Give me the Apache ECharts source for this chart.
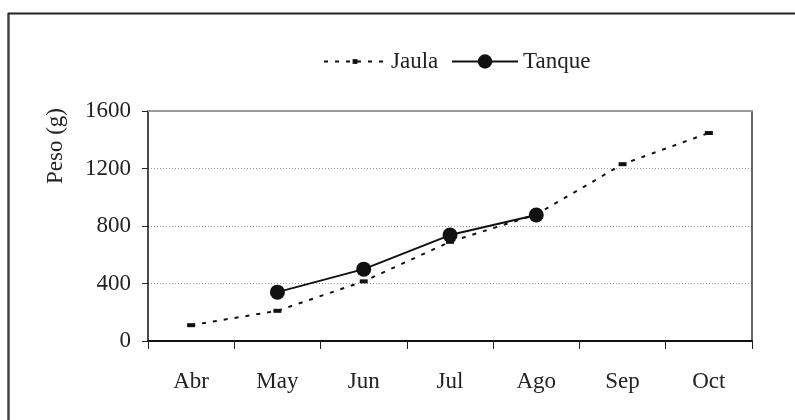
<!DOCTYPE html>
<html>
<head>
<meta charset="utf-8">
<script src="https://cdn.jsdelivr.net/npm/echarts@6/dist/echarts.min.js"></script>
<style>
html,body{margin:0;padding:0;background:#fff;}
#c{width:795px;height:420px;}
</style>
</head>
<body>
<div id="c"></div>
<script>
var categories = ['Abr', 'May', 'Jun', 'Jul', 'Ago', 'Sep', 'Oct'];
var jaula = [110, 210, 415, 690, 880, 1230, 1447];
var tanque = [null, 340, 500, 737, 877, null, null];
var yTicks = [0, 400, 800, 1200, 1600];
var yName = 'Peso (g)';

var FONT = 'Liberation Serif';
var TXT = '#222';
var chart = echarts.init(document.getElementById('c'), null, {renderer: 'canvas'});
chart.setOption({
  animation: false,
  backgroundColor: '#fff',
  textStyle: {fontFamily: FONT},
  grid: {left: 148, right: 43, top: 111, bottom: 79, containLabel: false},
  legend: [
    {
      data: ['Jaula'], left: 318, top: 45, itemWidth: 62, itemHeight: 6, itemGap: 10,
      textStyle: {fontFamily: FONT, fontSize: 23, color: TXT, padding: [0, 0, 0, 0]}
    },
    {
      data: ['Tanque'], left: 446, top: 45, itemWidth: 66, itemHeight: 18, itemGap: 10,
      textStyle: {fontFamily: FONT, fontSize: 23, color: TXT, padding: [0, 0, 0, 0]}
    }
  ],
  xAxis: [
    {
      type: 'category', data: categories, boundaryGap: true,
      axisLine: {lineStyle: {color: '#111', width: 2}},
      axisTick: {show: true, length: 8, lineStyle: {color: '#222', width: 1}},
      axisLabel: {fontFamily: FONT, fontSize: 23, color: TXT, margin: 29},
      splitLine: {show: false}
    },
    {
      type: 'category', data: categories, position: 'top',
      axisLine: {onZero: false, lineStyle: {color: '#999', width: 2}},
      axisTick: {show: false}, axisLabel: {show: false}
    }
  ],
  yAxis: [
    {
      type: 'value', min: 0, max: 1600, interval: 400,
      axisLine: {show: true, onZero: false, lineStyle: {color: '#111', width: 1.5}},
      axisTick: {show: true, length: 6, lineStyle: {color: '#222'}},
      axisLabel: {fontFamily: FONT, fontSize: 23, color: TXT, margin: 17,
        formatter: function (v) { return yTicks.indexOf(v) >= 0 ? String(v) : ''; }},
      splitLine: {show: true, lineStyle: {color: '#999', type: [1, 2], width: 1}}
    },
    {
      type: 'value', min: 0, max: 1600, interval: 400, position: 'right',
      axisLine: {show: true, onZero: false, lineStyle: {color: '#333', width: 1.5}},
      axisTick: {show: false}, axisLabel: {show: false}, splitLine: {show: false}
    }
  ],
  graphic: [
    {
      type: 'text', x: 56, y: 146, rotation: Math.PI / 2,
      style: {text: yName, fontFamily: FONT, fontSize: 23, fill: TXT, textAlign: 'center', textVerticalAlign: 'middle'}
    },
    {type: 'line', shape: {x1: 8.5, y1: 13, x2: 8.5, y2: 420}, style: {stroke: '#444', lineWidth: 2.5}},
    {type: 'line', shape: {x1: 8, y1: 13.5, x2: 795, y2: 13.5}, style: {stroke: '#222', lineWidth: 2}}
  ],
  series: [
    {
      name: 'Jaula', type: 'line', data: jaula,
      symbol: 'rect', symbolSize: [8, 4],
      lineStyle: {color: '#111', width: 2, type: [4, 7]},
      itemStyle: {color: '#111'}, z: 2
    },
    {
      name: 'Tanque', type: 'line', data: tanque,
      symbol: 'circle', symbolSize: 15, connectNulls: false,
      lineStyle: {color: '#111', width: 2, type: 'solid'},
      itemStyle: {color: '#111'}, z: 3
    }
  ]
});
</script>
</body>
</html>
